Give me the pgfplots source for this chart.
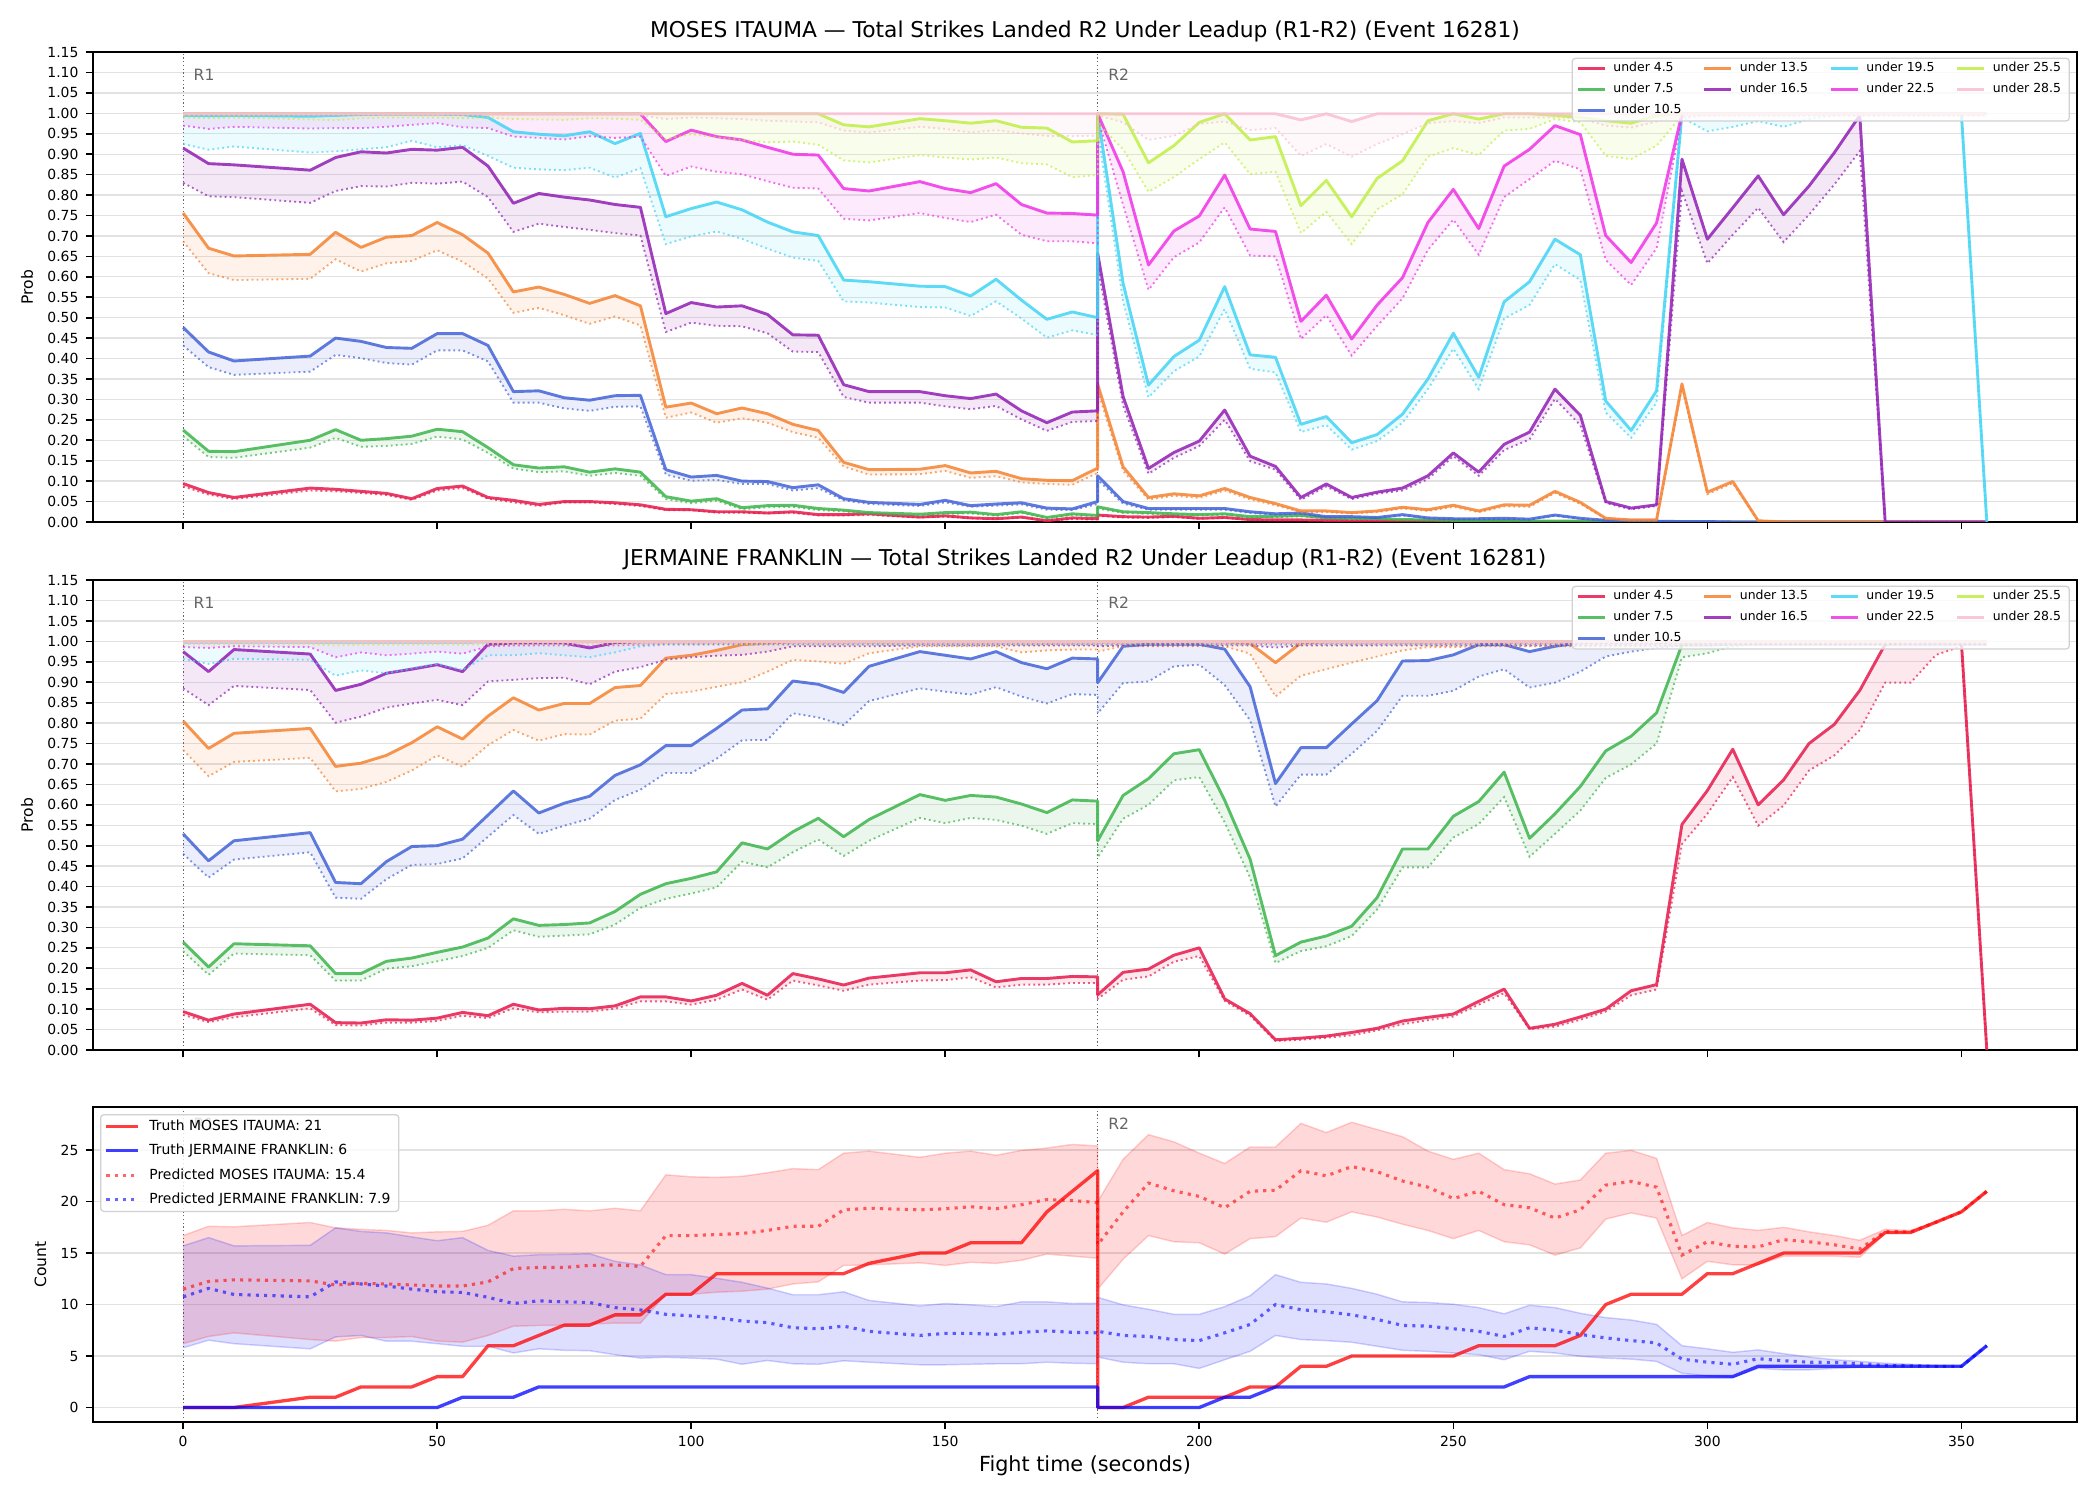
\documentclass[border=0pt]{standalone}
\usepackage{fontspec}
\setmainfont{DejaVu Sans}
\usepackage{pgfplots}
\usepackage{pgfplotstable}
\pgfplotsset{compat=1.18}
\usepgfplotslibrary{fillbetween}

\definecolor{s1}{HTML}{E6194B}
\definecolor{s2}{HTML}{3CB44B}
\definecolor{s3}{HTML}{4363D8}
\definecolor{s4}{HTML}{F58231}
\definecolor{s5}{HTML}{911EB4}
\definecolor{s6}{HTML}{42D4F4}
\definecolor{s7}{HTML}{F032E6}
\definecolor{s8}{HTML}{BFEF45}
\definecolor{s9}{HTML}{FABED4}
\definecolor{gridgray}{HTML}{E2E2E2}
\definecolor{roundgray}{HTML}{666666}

% Under-line probabilities, MOSES ITAUMA (solid = line, d = lower dotted bound)
\pgfplotstableread{
t r rd g gd b bd o od p pd c cd m md l ld k kd
0 .094 .087 .225 .210 .476 .432 .756 .687 .915 .830 .995 .925 .999 .970 .999 .990 .999 .996
5 .072 .067 .173 .159 .416 .379 .670 .609 .877 .797 .994 .911 .999 .962 .999 .988 .999 .996
10 .060 .056 .172 .157 .394 .360 .651 .592 .874 .795 .995 .919 .999 .967 .999 .990 .999 .996
25 .083 .077 .200 .182 .406 .368 .655 .595 .861 .781 .993 .904 .999 .963 .999 .985 .999 .996
30 .080 .075 .226 .206 .450 .409 .709 .643 .892 .810 .995 .907 .999 .964 .999 .983 .999 .996
35 .075 .071 .200 .184 .442 .401 .672 .613 .906 .822 .997 .912 .999 .964 .999 .988 .999 .996
40 .070 .066 .204 .186 .427 .389 .697 .633 .903 .821 .998 .917 .999 .967 .999 .990 .999 .996
45 .057 .054 .210 .191 .425 .385 .701 .639 .912 .830 .998 .933 .999 .972 .999 .990 .999 .996
50 .082 .077 .227 .209 .461 .420 .733 .665 .910 .828 .998 .917 .999 .976 .999 .990 .999 .996
55 .088 .083 .221 .202 .461 .420 .703 .637 .917 .833 .997 .922 .999 .966 .999 .988 .999 .996
60 .060 .057 .182 .169 .432 .393 .658 .596 .871 .795 .990 .896 .999 .964 .999 .990 .999 .996
65 .053 .048 .140 .131 .319 .292 .563 .512 .780 .710 .955 .867 .999 .943 .999 .986 .999 .996
70 .043 .039 .132 .122 .321 .292 .575 .524 .804 .730 .949 .863 .999 .940 .999 .985 .999 .996
75 .050 .048 .135 .124 .304 .278 .557 .506 .795 .722 .945 .861 .999 .936 .999 .984 .999 .996
80 .050 .048 .122 .113 .298 .272 .535 .485 .788 .715 .955 .867 .999 .944 .999 .988 .999 .996
85 .047 .044 .130 .120 .309 .282 .554 .503 .777 .707 .926 .843 .999 .940 .999 .987 .999 .996
90 .042 .039 .122 .113 .310 .283 .529 .481 .770 .701 .951 .866 .999 .943 .999 .984 .999 .996
95 .031 .029 .062 .056 .128 .116 .281 .255 .510 .465 .747 .680 .931 .847 .999 .937 .999 .986
100 .030 .029 .051 .046 .110 .101 .291 .268 .537 .488 .767 .699 .959 .870 .999 .949 .999 .990
105 .025 .023 .057 .052 .114 .103 .265 .243 .526 .480 .783 .711 .943 .857 .999 .941 .999 .988
110 .025 .023 .035 .031 .100 .093 .279 .254 .529 .479 .764 .693 .935 .851 .999 .935 .999 .986
115 .022 .021 .040 .036 .099 .093 .265 .243 .508 .462 .734 .669 .917 .834 .999 .929 .999 .982
120 .025 .022 .041 .037 .084 .077 .239 .220 .458 .417 .710 .647 .900 .818 .999 .931 .999 .980
125 .018 .016 .033 .029 .091 .083 .224 .206 .457 .416 .701 .639 .898 .816 .999 .923 .999 .978
130 .018 .016 .029 .026 .057 .053 .146 .136 .336 .306 .592 .540 .816 .742 .972 .885 .999 .958
135 .020 .017 .023 .020 .048 .044 .128 .116 .319 .292 .588 .537 .810 .738 .967 .880 .999 .953
145 .012 .011 .019 .016 .043 .039 .129 .117 .319 .292 .577 .526 .833 .756 .987 .898 .999 .967
150 .015 .013 .023 .020 .053 .048 .138 .125 .309 .283 .576 .525 .816 .744 .982 .892 .999 .962
155 .010 .009 .024 .021 .040 .037 .120 .108 .302 .276 .553 .504 .806 .734 .976 .887 .999 .953
160 .008 .007 .018 .015 .044 .040 .124 .112 .313 .284 .594 .540 .828 .752 .982 .892 .999 .959
165 .012 .011 .025 .022 .047 .043 .106 .097 .272 .251 .543 .498 .777 .703 .966 .878 .999 .951
170 .003 .003 .011 .009 .034 .030 .102 .093 .243 .223 .496 .451 .756 .687 .964 .875 .999 .945
175 .010 .007 .020 .017 .032 .029 .101 .091 .269 .245 .514 .469 .755 .687 .930 .844 .999 .944
180 .008 .006 .016 .013 .050 .044 .132 .120 .272 .247 .500 .457 .751 .682 .933 .849 .999 .945
180 .017 .015 .037 .033 .113 .103 .337 .320 .657 .625 .999 .960 .999 .990 .999 .975 .999 .995
185 .013 .011 .025 .022 .050 .045 .135 .125 .307 .285 .584 .540 .857 .776 .998 .912 .999 .978
190 .012 .010 .023 .020 .033 .030 .060 .055 .131 .118 .335 .305 .629 .568 .879 .808 .999 .935
195 .014 .012 .020 .018 .033 .030 .069 .064 .170 .157 .405 .369 .712 .648 .921 .844 .999 .945
200 .009 .008 .018 .016 .033 .030 .064 .059 .198 .186 .445 .405 .749 .684 .978 .888 .999 .974
205 .011 .010 .020 .018 .033 .030 .082 .077 .274 .250 .576 .521 .849 .770 .999 .929 .999 .980
210 .006 .005 .013 .011 .025 .022 .060 .055 .161 .149 .409 .375 .717 .652 .935 .851 .999 .959
215 .005 .004 .014 .012 .020 .018 .045 .041 .136 .128 .403 .366 .711 .650 .943 .857 .999 .964
220 .005 .004 .016 .014 .022 .020 .027 .024 .060 .054 .239 .220 .491 .448 .774 .707 .984 .896
225 .004 .003 .010 .009 .013 .011 .027 .024 .093 .087 .258 .237 .555 .506 .836 .759 .999 .925
230 .003 .002 .009 .008 .013 .011 .023 .021 .060 .056 .194 .177 .448 .407 .747 .680 .980 .894
235 .003 .002 .008 .007 .011 .010 .027 .024 .073 .069 .214 .198 .531 .480 .841 .765 .999 .925
240 .002 .002 .006 .005 .018 .016 .036 .033 .083 .077 .264 .243 .598 .547 .884 .802 .999 .949
245 .002 .001 .005 .004 .010 .009 .030 .027 .113 .105 .350 .325 .733 .666 .982 .894 .999 .976
250 .001 .001 .004 .003 .008 .007 .041 .037 .169 .161 .462 .424 .814 .740 .999 .915 .999 .981
255 .001 .001 .003 .002 .008 .007 .027 .024 .122 .113 .354 .325 .718 .654 .986 .898 .999 .976
260 .001 .001 .003 .002 .009 .008 .042 .038 .190 .176 .539 .498 .871 .795 .999 .958 .999 .990
265 0 0 .002 .002 .007 .006 .041 .037 .220 .202 .588 .531 .912 .839 .999 .962 .999 .990
270 0 0 .002 .002 .017 .015 .075 .071 .325 .301 .692 .631 .970 .884 .995 .986 .999 .990
275 0 0 .002 .002 .009 .008 .048 .044 .261 .237 .654 .592 .948 .863 .990 .978 .999 .988
280 0 0 .001 .001 .004 .003 .009 .008 .050 .046 .296 .268 .701 .641 .982 .896 .999 .970
285 0 0 .001 .001 .002 .002 .005 .004 .034 .031 .224 .206 .635 .580 .976 .888 .999 .965
290 0 0 .001 .001 .002 .002 .005 .004 .042 .039 .321 .292 .732 .670 .995 .921 .999 .980
295 0 0 0 0 .001 .001 .338 .330 .888 .810 .999 .990 .999 .990 .999 .995 .999 .995
300 0 0 0 0 .001 .001 .073 .068 .692 .633 .999 .956 .999 .995 .999 .998 .999 .995
305 0 0 0 0 0 0 .099 .095 .769 .703 .999 .967 .999 .995 .999 .998 .999 .995
310 0 0 0 0 0 0 .003 .003 .847 .769 .999 .981 .999 .995 .999 .998 .999 .995
315 0 0 0 0 0 0 0 0 .752 .685 .999 .967 .999 .995 .999 .998 .999 .995
320 0 0 0 0 0 0 0 0 .822 .752 .999 .986 .999 .995 .999 .998 .999 .995
325 0 0 0 0 0 0 0 0 .904 .826 .999 .995 .999 .995 .999 .998 .999 .995
330 0 0 0 0 0 0 0 0 .995 .908 .999 .995 .999 .995 .999 .998 .999 .995
335 0 0 0 0 0 0 0 0 0 0 .999 .995 .999 .995 .999 .998 .999 .995
340 0 0 0 0 0 0 0 0 0 0 .999 .995 .999 .995 .999 .998 .999 .995
345 0 0 0 0 0 0 0 0 0 0 .999 .995 .999 .995 .999 .998 .999 .995
350 0 0 0 0 0 0 0 0 0 0 .999 .995 .999 .995 .999 .998 .999 .995
355 0 0 0 0 0 0 0 0 0 0 0 0 .999 .995 .999 .998 .999 .995
}\tabA

% Under-line probabilities, JERMAINE FRANKLIN
\pgfplotstableread{
t r rd g gd b bd o od p pd c cd m md l ld k kd
0 .094 .086 .264 .242 .529 .480 .805 .734 .975 .885 .998 .957 .999 .986 .999 .993 .999 .996
5 .073 .068 .203 .184 .463 .422 .738 .670 .926 .844 .998 .945 .999 .984 .999 .993 .999 .996
10 .088 .080 .260 .236 .512 .466 .775 .705 .980 .891 .998 .957 .999 .988 .999 .993 .999 .996
25 .112 .102 .255 .232 .532 .484 .787 .715 .969 .881 .998 .955 .999 .986 .999 .993 .999 .996
30 .067 .061 .187 .170 .410 .373 .694 .633 .880 .801 .998 .916 .999 .961 .999 .990 .999 .996
35 .066 .060 .187 .170 .407 .370 .702 .639 .895 .816 .998 .929 .999 .973 .999 .992 .999 .996
40 .074 .067 .217 .199 .461 .418 .721 .656 .922 .838 .998 .922 .999 .966 .999 .992 .999 .996
45 .073 .067 .225 .205 .498 .453 .752 .684 .932 .848 .998 .934 .999 .970 .999 .992 .999 .996
50 .078 .071 .239 .217 .500 .455 .791 .721 .943 .857 .998 .945 .999 .975 .999 .993 .999 .996
55 .092 .084 .252 .230 .516 .469 .761 .693 .926 .844 .998 .930 .999 .970 .999 .992 .999 .996
60 .084 .078 .274 .250 .575 .522 .817 .746 .993 .902 .999 .966 .999 .988 .999 .993 .999 .996
65 .112 .102 .321 .293 .634 .575 .862 .783 .996 .906 .999 .966 .999 .990 .999 .993 .999 .996
70 .098 .092 .305 .277 .580 .529 .832 .757 .996 .910 .999 .971 .999 .990 .999 .993 .999 .996
75 .102 .094 .307 .280 .604 .549 .848 .773 .996 .911 .999 .966 .999 .990 .999 .993 .999 .996
80 .101 .094 .311 .283 .621 .566 .848 .772 .984 .895 .999 .961 .999 .988 .999 .993 .999 .996
85 .108 .101 .339 .307 .672 .612 .887 .806 .997 .926 .999 .973 .999 .990 .999 .993 .999 .996
90 .130 .119 .381 .348 .698 .637 .892 .811 .999 .937 .999 .988 .999 .992 .999 .994 .999 .996
95 .130 .119 .407 .370 .745 .678 .959 .871 .999 .955 .999 .992 .999 .993 .999 .994 .999 .996
100 .120 .111 .420 .383 .745 .678 .966 .877 .999 .961 .999 .992 .999 .993 .999 .994 .999 .996
105 .134 .123 .436 .398 .787 .713 .978 .889 .999 .965 .999 .992 .999 .993 .999 .994 .999 .996
110 .163 .148 .507 .461 .832 .758 .992 .900 .999 .967 .999 .992 .999 .993 .999 .994 .999 .996
115 .134 .123 .492 .447 .835 .759 .996 .926 .999 .975 .999 .992 .999 .993 .999 .994 .999 .996
120 .187 .170 .534 .484 .903 .824 .999 .955 .999 .988 .999 .992 .999 .993 .999 .994 .999 .996
125 .174 .158 .567 .515 .895 .814 .999 .951 .999 .988 .999 .992 .999 .993 .999 .994 .999 .996
130 .159 .145 .522 .475 .875 .795 .999 .945 .999 .988 .999 .992 .999 .993 .999 .994 .999 .996
135 .176 .160 .564 .512 .939 .854 .999 .971 .999 .988 .999 .992 .999 .993 .999 .994 .999 .996
145 .189 .170 .625 .568 .975 .885 .999 .988 .999 .990 .999 .992 .999 .993 .999 .994 .999 .996
150 .189 .171 .611 .555 .966 .877 .999 .988 .999 .990 .999 .992 .999 .993 .999 .994 .999 .996
155 .196 .178 .623 .568 .957 .870 .999 .988 .999 .990 .999 .992 .999 .993 .999 .994 .999 .996
160 .167 .153 .619 .563 .975 .888 .999 .988 .999 .990 .999 .992 .999 .993 .999 .994 .999 .996
165 .175 .160 .602 .549 .948 .865 .999 .973 .999 .990 .999 .992 .999 .993 .999 .994 .999 .996
170 .175 .160 .581 .529 .933 .848 .999 .978 .999 .990 .999 .992 .999 .993 .999 .994 .999 .996
175 .180 .164 .612 .555 .959 .871 .999 .980 .999 .990 .999 .992 .999 .993 .999 .994 .999 .996
180 .179 .164 .609 .553 .957 .869 .999 .980 .999 .990 .999 .992 .999 .993 .999 .994 .999 .996
180 .135 .125 .512 .471 .899 .824 .999 .975 .999 .988 .999 .990 .999 .993 .999 .994 .999 .996
185 .190 .172 .623 .566 .988 .898 .999 .988 .999 .990 .999 .992 .999 .993 .999 .994 .999 .996
190 .198 .180 .664 .600 .993 .902 .999 .988 .999 .990 .999 .992 .999 .993 .999 .994 .999 .996
195 .232 .216 .725 .660 .993 .939 .999 .988 .999 .990 .999 .992 .999 .993 .999 .994 .999 .996
200 .250 .230 .735 .668 .993 .943 .999 .988 .999 .990 .999 .992 .999 .993 .999 .994 .999 .996
205 .125 .120 .611 .557 .981 .893 .999 .988 .999 .990 .999 .992 .999 .993 .999 .994 .999 .996
210 .089 .084 .467 .422 .889 .807 .995 .970 .999 .990 .999 .992 .999 .993 .999 .994 .999 .996
215 .025 .022 .231 .213 .652 .596 .948 .865 .999 .985 .999 .992 .999 .993 .999 .994 .999 .996
220 .029 .025 .264 .242 .740 .674 .996 .916 .999 .990 .999 .992 .999 .993 .999 .994 .999 .996
225 .034 .030 .279 .254 .740 .674 .999 .932 .999 .990 .999 .992 .999 .993 .999 .994 .999 .996
230 .043 .036 .303 .279 .798 .725 .999 .948 .999 .990 .999 .992 .999 .993 .999 .994 .999 .996
235 .053 .048 .373 .344 .855 .781 .999 .963 .999 .990 .999 .992 .999 .993 .999 .994 .999 .996
240 .071 .063 .492 .447 .952 .867 .999 .978 .999 .990 .999 .992 .999 .993 .999 .994 .999 .996
245 .080 .073 .492 .447 .953 .867 .999 .986 .999 .990 .999 .992 .999 .993 .999 .994 .999 .996
250 .088 .082 .572 .520 .967 .879 .999 .986 .999 .990 .999 .992 .999 .993 .999 .994 .999 .996
255 .119 .111 .608 .553 .992 .914 .999 .988 .999 .990 .999 .992 .999 .993 .999 .994 .999 .996
260 .149 .139 .680 .619 .992 .932 .999 .988 .999 .990 .999 .992 .999 .993 .999 .994 .999 .996
265 .053 .051 .518 .473 .975 .887 .999 .988 .999 .990 .999 .992 .999 .993 .999 .994 .999 .996
270 .063 .057 .578 .529 .988 .899 .999 .988 .999 .990 .999 .992 .999 .993 .999 .994 .999 .996
275 .081 .074 .645 .586 .997 .926 .999 .988 .999 .990 .999 .992 .999 .993 .999 .994 .999 .996
280 .100 .094 .732 .666 .997 .963 .999 .988 .999 .990 .999 .992 .999 .993 .999 .994 .999 .996
285 .145 .134 .768 .699 .997 .975 .999 .988 .999 .990 .999 .992 .999 .993 .999 .994 .999 .996
290 .160 .148 .825 .750 .997 .984 .999 .988 .999 .990 .999 .992 .999 .993 .999 .994 .999 .996
295 .552 .504 .992 .961 .999 .990 .999 .990 .999 .990 .999 .992 .999 .993 .999 .994 .999 .996
300 .635 .578 .996 .971 .999 .990 .999 .990 .999 .990 .999 .992 .999 .993 .999 .994 .999 .996
305 .736 .668 .999 .988 .999 .992 .999 .992 .999 .992 .999 .992 .999 .993 .999 .994 .999 .996
310 .600 .549 .999 .995 .999 .992 .999 .992 .999 .992 .999 .992 .999 .993 .999 .994 .999 .996
315 .661 .598 .999 .995 .999 .992 .999 .992 .999 .992 .999 .992 .999 .993 .999 .994 .999 .996
320 .750 .684 .999 .995 .999 .992 .999 .992 .999 .992 .999 .992 .999 .993 .999 .994 .999 .996
325 .797 .721 .999 .995 .999 .992 .999 .992 .999 .992 .999 .992 .999 .993 .999 .994 .999 .996
330 .880 .783 .999 .995 .999 .992 .999 .992 .999 .992 .999 .992 .999 .993 .999 .994 .999 .996
335 .993 .899 .999 .995 .999 .992 .999 .992 .999 .992 .999 .992 .999 .993 .999 .994 .999 .996
340 .999 .899 .999 .995 .999 .992 .999 .992 .999 .992 .999 .992 .999 .993 .999 .994 .999 .996
345 .999 .967 .999 .995 .999 .992 .999 .992 .999 .992 .999 .992 .999 .993 .999 .994 .999 .996
350 .999 .988 .999 .995 .999 .992 .999 .992 .999 .992 .999 .992 .999 .993 .999 .994 .999 .996
355 0 0 .999 .995 .999 .992 .999 .992 .999 .992 .999 .992 .999 .993 .999 .994 .999 .996
}\tabB

% Strike counts: truth, predicted mean and band
\pgfplotstableread{
t tm tj pm pmlo pmhi pj pjlo pjhi
0 0 0 11.5 6.2 16.7 10.75 5.8 15.7
5 0 0 12.25 6.9 17.6 11.57 6.54 16.5
10 0 0 12.4 7.25 17.55 10.98 6.2 15.7
25 1 0 12.3 6.6 17.97 10.75 5.7 15.75
30 1 0 11.9 6.45 17.45 12.2 6.86 17.45
35 2 0 12.06 6.8 17.3 12.0 7.0 17.1
40 2 0 12.0 6.8 17.2 11.8 6.44 16.96
45 2 0 11.9 6.9 16.96 11.5 6.44 16.57
50 3 0 11.8 6.45 17.06 11.24 6.2 16.2
55 3 1 11.8 6.35 17.1 11.18 5.95 16.5
60 6 1 12.2 7.0 17.7 10.7 5.95 15.26
65 6 1 13.5 7.9 19.1 10.1 5.3 14.7
70 7 2 13.6 7.97 19.1 10.36 5.7 14.84
75 8 2 13.6 8.0 19.25 10.26 5.56 14.87
80 8 2 13.8 8.1 19.1 10.2 5.52 14.93
85 9 2 13.85 8.2 19.35 9.7 5.13 14.2
90 9 2 13.7 8.2 19.1 9.48 4.8 13.85
95 11 2 16.7 11.0 22.6 9.05 4.87 12.9
100 11 2 16.7 11.0 22.4 8.9 4.8 12.9
105 13 2 16.8 11.2 22.35 8.73 4.7 12.55
110 13 2 16.9 11.3 22.45 8.4 4.2 12.16
115 13 2 17.2 11.5 22.8 8.24 4.57 11.6
120 13 2 17.6 12.0 23.2 7.75 4.25 10.95
125 13 2 17.6 12.2 23.1 7.65 4.2 10.95
130 13 2 19.2 13.8 24.7 7.9 4.54 11.24
135 14 2 19.35 13.85 24.9 7.4 4.4 10.4
145 15 2 19.2 14.05 24.3 7.0 4.15 9.87
150 15 2 19.3 13.8 24.7 7.2 4.15 10.1
155 16 2 19.5 14.1 24.9 7.2 4.2 9.97
160 16 2 19.3 14.0 24.5 7.1 4.25 9.8
165 16 2 19.7 14.3 24.97 7.3 4.25 10.26
170 19 2 20.2 14.9 25.2 7.45 4.4 10.26
175 21 2 20.1 14.7 25.55 7.3 4.3 10.1
180 23 2 19.9 14.5 25.4 7.25 4.25 10.13
180 0 0 15.8 11.5 20.0 7.4 4.9 10.7
185 0 0 19.0 14.4 24.1 7.0 4.4 9.97
190 1 0 21.8 16.7 26.5 6.9 4.25 9.54
195 1 0 21.05 16.1 25.8 6.6 4.25 9.05
200 1 0 20.5 16.0 24.7 6.5 3.8 9.05
205 1 1 19.4 14.9 23.7 7.25 4.64 9.8
210 2 1 21.0 16.4 25.3 8.07 5.46 10.85
215 2 2 21.1 16.6 25.3 10.0 7.0 12.9
220 4 2 23.0 18.4 27.6 9.5 6.6 12.16
225 4 2 22.5 18.0 26.7 9.3 6.5 12.0
230 5 2 23.4 19.0 27.7 9.0 6.34 11.57
235 5 2 22.9 18.5 27.0 8.56 5.95 11.0
240 5 2 22.0 17.8 26.3 7.97 5.56 10.26
245 5 2 21.4 17.2 24.9 7.9 5.46 10.2
250 5 2 20.3 16.4 24.1 7.65 5.3 10.03
255 6 2 21.0 17.2 24.7 7.4 5.13 9.7
260 6 2 19.7 16.1 23.1 6.9 4.64 9.1
265 6 3 19.4 15.8 22.7 7.75 5.46 9.93
270 6 3 18.4 14.8 21.7 7.5 5.3 9.7
275 7 3 19.2 15.5 22.1 7.1 4.97 9.15
280 10 3 21.6 18.3 24.7 6.76 4.8 8.73
285 11 3 21.96 18.9 24.97 6.5 4.7 8.5
290 11 3 21.4 18.4 24.2 6.27 4.48 8.07
295 11 3 14.8 12.5 16.7 4.7 3.33 6.0
300 13 3 16.1 14.2 17.97 4.4 3.07 5.7
305 13 3 15.65 13.86 17.45 4.2 2.94 5.36
310 14 4 15.6 13.86 17.2 4.74 3.8 5.6
315 15 4 16.3 14.7 17.5 4.54 3.66 5.23
320 15 4 16.1 14.7 17.06 4.4 3.66 4.9
325 15 4 15.8 14.7 16.7 4.38 3.8 4.64
330 15 4 15.4 14.6 16.24 4.25 3.9 4.48
335 17 4 17.1 16.9 17.3 4.08 3.9 4.3
340 17 4 17.05 17.0 17.2 4.05 3.92 4.2
345 18 4 18.0 18.0 18.0 4.0 4.0 4.05
350 19 4 19.0 19.0 19.0 4.0 4.0 4.0
355 21 6 21.0 21.0 21.0 6.0 6.0 6.0
}\tabC

% one threshold: solid line, dotted lower bound, shaded band between them
\newcommand{\probband}[5]{%
  \addplot[forget plot, #4, draw opacity=.85, line width=1.4pt, line join=round, name path=#5S#2] table[x=t,y=#2]{#1};
  \addplot[forget plot, #4, draw opacity=.7, line width=.9pt, dash pattern=on .9pt off 1.5pt, name path=#5D#2] table[x=t,y=#3]{#1};
  \addplot[forget plot, #4, draw=none, fill opacity=.1] fill between[of=#5S#2 and #5D#2];
}

\newcommand{\probbands}[2]{%
  \probband{#1}{r}{rd}{s1}{#2}
  \probband{#1}{g}{gd}{s2}{#2}
  \probband{#1}{b}{bd}{s3}{#2}
  \probband{#1}{o}{od}{s4}{#2}
  \probband{#1}{p}{pd}{s5}{#2}
  \probband{#1}{c}{cd}{s6}{#2}
  \probband{#1}{m}{md}{s7}{#2}
  \probband{#1}{l}{ld}{s8}{#2}
  \probband{#1}{k}{kd}{s9}{#2}
}

\newcommand{\problegend}{%
  \addlegendimage{s1}\addlegendentry{under 4.5}
  \addlegendimage{s4}\addlegendentry{under 13.5}
  \addlegendimage{s6}\addlegendentry{under 19.5}
  \addlegendimage{s8}\addlegendentry{under 25.5}
  \addlegendimage{s2}\addlegendentry{under 7.5}
  \addlegendimage{s5}\addlegendentry{under 16.5}
  \addlegendimage{s7}\addlegendentry{under 22.5}
  \addlegendimage{s9}\addlegendentry{under 28.5}
  \addlegendimage{s3}\addlegendentry{under 10.5}
}

\pgfplotsset{
  base/.style={
    scale only axis, width=955.9pt,
    xmin=-17.75, xmax=372.75,
    xtick={0,50,100,150,200,250,300,350},
    tick align=outside, tick pos=left,
    major tick length=3.5pt,
    every tick/.style={black, line width=.8pt},
    axis line style={line width=.8pt},
    ymajorgrids, major grid style={gridgray, line width=.6pt},
    tick label style={font=\fontsize{6.7}{8}\selectfont},
    ylabel style={font=\fontsize{7.5}{9}\selectfont},
    title style={font=\fontsize{10.5}{12}\selectfont, yshift=-4.5pt},
    /pgf/number format/assume math mode=true,
    extra x ticks={0,180}, extra x tick labels={},
    extra x tick style={grid=major, major tick length=0pt,
      major grid style={roundgray, line width=.6pt, dash pattern=on .6pt off 1.2pt}},
  },
  prob/.style={
    base, height=226.4pt, ymin=0, ymax=1.15,
    ytick={0,0.05,0.1,0.15,0.2,0.25,0.3,0.35,0.4,0.45,0.5,0.55,0.6,0.65,0.7,0.75,0.8,0.85,0.9,0.95,1,1.05,1.1,1.15},
    yticklabel style={/pgf/number format/.cd, fixed, fixed zerofill, precision=2},
    xticklabels={}, ylabel={Prob},
    legend columns=4, legend cell align=left,
    legend image code/.code={\draw[##1, line width=1.3pt, draw opacity=.85] (0pt,0pt) -- (13pt,0pt);},
    legend style={at={(rel axis cs:1,1)}, anchor=north east, xshift=-3.4pt, yshift=-2.7pt,
      font=\fontsize{6}{7}\selectfont, fill=white, fill opacity=.8, text opacity=1,
      draw=black!18, line width=.6pt, rounded corners=1.5pt,
      inner xsep=2pt, inner ysep=0pt, row sep=0pt,
      /tikz/every odd column/.append style={column sep=1.5pt},
      /tikz/every even column/.append style={column sep=8.3pt}},
  },
}

\begin{document}
\begin{tikzpicture}

% MOSES ITAUMA
\begin{axis}[prob, at={(44.8pt,471.2pt)}, anchor=south west,
  title={MOSES ITAUMA — Total Strikes Landed R2 Under Leadup (R1-R2) (Event 16281)}]
\probbands{\tabA}{A}
\problegend
\node[anchor=north west, inner sep=0pt, font=\fontsize{7.5}{9}\selectfont, text=roundgray] at (axis cs:2,1.11) {R1};
\node[anchor=north west, inner sep=0pt, font=\fontsize{7.5}{9}\selectfont, text=roundgray] at (axis cs:182,1.11) {R2};
\end{axis}

% JERMAINE FRANKLIN
\begin{axis}[prob, at={(44.8pt,216.8pt)}, anchor=south west,
  title={JERMAINE FRANKLIN — Total Strikes Landed R2 Under Leadup (R1-R2) (Event 16281)}]
\probbands{\tabB}{B}
\problegend
\node[anchor=north west, inner sep=0pt, font=\fontsize{7.5}{9}\selectfont, text=roundgray] at (axis cs:2,1.11) {R1};
\node[anchor=north west, inner sep=0pt, font=\fontsize{7.5}{9}\selectfont, text=roundgray] at (axis cs:182,1.11) {R2};
\end{axis}

% counts
\begin{axis}[base, at={(44.8pt,37.6pt)}, anchor=south west, height=151.8pt,
  ymin=-1.4, ymax=29.2, ytick={0,5,10,15,20,25},
  ylabel={Count}, xlabel={Fight time (seconds)},
  xlabel style={font=\fontsize{10}{12}\selectfont, yshift=6.4pt},
  legend cell align=left,
  legend image code/.code={\draw[#1] (0pt,0pt) -- (15pt,0pt);},
  legend style={at={(rel axis cs:0,1)}, anchor=north west, xshift=3.4pt, yshift=-3.5pt,
    font=\fontsize{6.7}{8}\selectfont, fill=white, fill opacity=.8, text opacity=1,
    draw=black!18, line width=.6pt, rounded corners=1.5pt,
    inner xsep=2pt, inner ysep=0.3pt, row sep=1.2pt,
    /tikz/every odd column/.append style={column sep=2.9pt}}]
\addplot[forget plot, red, draw opacity=.18, line width=.7pt, name path=mhi] table[x=t,y=pmhi]{\tabC};
\addplot[forget plot, red, draw opacity=.18, line width=.7pt, name path=mlo] table[x=t,y=pmlo]{\tabC};
\addplot[forget plot, red, draw=none, fill opacity=.15] fill between[of=mhi and mlo];
\addplot[forget plot, blue, draw opacity=.18, line width=.7pt, name path=jhi] table[x=t,y=pjhi]{\tabC};
\addplot[forget plot, blue, draw opacity=.18, line width=.7pt, name path=jlo] table[x=t,y=pjlo]{\tabC};
\addplot[forget plot, blue, draw=none, fill opacity=.13] fill between[of=jhi and jlo];
\addplot[forget plot, red, draw opacity=.75, line width=1.6pt, line join=round] table[x=t,y=tm]{\tabC};
\addplot[forget plot, blue, draw opacity=.75, line width=1.6pt, line join=round] table[x=t,y=tj]{\tabC};
\addplot[forget plot, red, draw opacity=.6, line width=1.5pt, dash pattern=on 1.5pt off 2.5pt] table[x=t,y=pm]{\tabC};
\addplot[forget plot, blue, draw opacity=.6, line width=1.5pt, dash pattern=on 1.5pt off 2.5pt] table[x=t,y=pj]{\tabC};
\addlegendimage{red, draw opacity=.75, line width=1.6pt}\addlegendentry{Truth MOSES ITAUMA: 21}
\addlegendimage{blue, draw opacity=.75, line width=1.6pt}\addlegendentry{Truth JERMAINE FRANKLIN: 6}
\addlegendimage{red, draw opacity=.6, line width=1.5pt, dash pattern=on 1.5pt off 2.5pt}\addlegendentry{Predicted MOSES ITAUMA: 15.4}
\addlegendimage{blue, draw opacity=.6, line width=1.5pt, dash pattern=on 1.5pt off 2.5pt}\addlegendentry{Predicted JERMAINE FRANKLIN: 7.9}
\node[anchor=north west, inner sep=0pt, font=\fontsize{7.5}{9}\selectfont, text=roundgray] at (axis cs:2,28.15) {R1};
\node[anchor=north west, inner sep=0pt, font=\fontsize{7.5}{9}\selectfont, text=roundgray] at (axis cs:182,28.15) {R2};
\end{axis}

% full canvas
\path (0,0) rectangle (1011.8pt,722.7pt);
\end{tikzpicture}
\end{document}
